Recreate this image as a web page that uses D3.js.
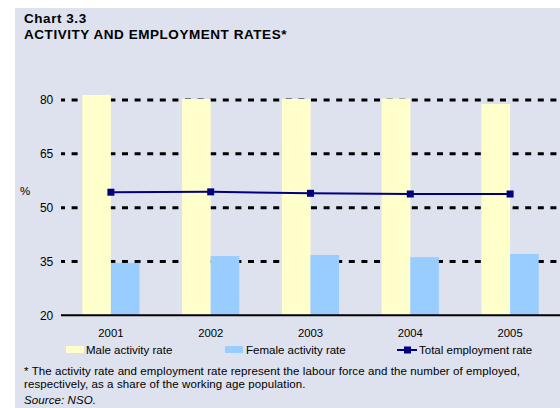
<!DOCTYPE html>
<html>
<head>
<meta charset="utf-8">
<script src="https://cdn.jsdelivr.net/npm/d3@7"></script>
<style>
  html, body { margin: 0; padding: 0; background: #ffffff; }
  svg { display: block; font-family: "Liberation Sans", Arial, sans-serif; }
</style>
</head>
<body>
<svg id="chart" width="560" height="408"></svg>
<script>
// Labour market indicators, % of working age population
const years = ["2001", "2002", "2003", "2004", "2005"];
const maleActivity = [81.4, 80.3, 80.3, 80.4, 78.9];
const femaleActivity = [34.6, 36.5, 36.8, 36.2, 37.1];
const totalEmployment = [54.3, 54.4, 54.0, 53.8, 53.8];
const yTicks = [20, 35, 50, 65, 80];
const seriesNames = ["Male activity rate", "Female activity rate", "Total employment rate"];

const colors = { male: "#ffffcc", female: "#99ccff", line: "#000080", bg: "#dde2ee" };

const svg = d3.select("#chart");

// panel background
svg.append("rect").attr("x", 15).attr("y", 8).attr("width", 545).attr("height", 400)
  .attr("fill", colors.bg);

// titles
svg.append("text").attr("x", 24).attr("y", 23).attr("font-size", 13.5).attr("font-weight", "bold")
  .attr("letter-spacing", 0.55).attr("fill", "#000").text("Chart 3.3");
svg.append("text").attr("x", 24).attr("y", 38.5).attr("font-size", 13.5).attr("font-weight", "bold")
  .attr("letter-spacing", 0.55).attr("fill", "#000").text("ACTIVITY AND EMPLOYMENT RATES*");

const plotLeft = 61, plotRight = 560;
const y = d3.scaleLinear().domain([20, 80]).range([315.3, 100]);
const x = d3.scaleBand().domain(years).range([plotLeft, plotRight]).paddingInner(0).paddingOuter(0);
const barW = 28.6;
const cx = d => x(d) + x.bandwidth() / 2;

// dotted gridlines
const grid = svg.append("g");
grid.selectAll("line").data(yTicks.filter(t => t > 20)).join("line")
  .attr("x1", plotLeft).attr("x2", plotRight)
  .attr("y1", d => y(d)).attr("y2", d => y(d))
  .attr("stroke", "#000").attr("stroke-width", 3)
  .attr("stroke-dasharray", "6 6.6").attr("stroke-dashoffset", 2);

// bars
svg.append("g").selectAll("rect").data(years).join("rect")
  .attr("x", d => cx(d) - barW).attr("width", barW)
  .attr("y", (d, i) => y(maleActivity[i])).attr("height", (d, i) => y(20) - y(maleActivity[i]))
  .attr("fill", colors.male);
svg.append("g").selectAll("rect").data(years).join("rect")
  .attr("x", d => cx(d)).attr("width", barW)
  .attr("y", (d, i) => y(femaleActivity[i])).attr("height", (d, i) => y(20) - y(femaleActivity[i]))
  .attr("fill", colors.female);

// baseline axis
svg.append("line").attr("x1", plotLeft).attr("x2", plotRight)
  .attr("y1", y(20)).attr("y2", y(20)).attr("stroke", "#000").attr("stroke-width", 2);

// y axis labels
const yAxis = d3.axisLeft(y).tickValues(yTicks).tickSize(0).tickPadding(0).tickFormat(d3.format("d"));
const yg = svg.append("g").attr("transform", "translate(53.3,0)").call(yAxis);
yg.select(".domain").remove();
yg.selectAll("text").attr("font-size", 12).attr("fill", "#000")
  .attr("font-family", "Liberation Sans, Arial, sans-serif");

svg.append("text").attr("x", 20).attr("y", 195).attr("font-size", 11.5).attr("fill", "#000").text("%");

// x axis labels
const xAxis = d3.axisBottom(x).tickSize(0).tickPadding(0);
const xg = svg.append("g").attr("transform", "translate(0,328.7)").call(xAxis);
xg.select(".domain").remove();
xg.selectAll("text").attr("font-size", 11.3).attr("fill", "#000")
  .attr("font-family", "Liberation Sans, Arial, sans-serif");

// employment line
const line = d3.line().x((d, i) => cx(years[i])).y(d => y(d));
svg.append("path").datum(totalEmployment).attr("d", line)
  .attr("fill", "none").attr("stroke", colors.line).attr("stroke-width", 2);
svg.append("g").selectAll("rect").data(totalEmployment).join("rect")
  .attr("x", (d, i) => cx(years[i]) - 3.5).attr("y", d => y(d) - 3.5)
  .attr("width", 7).attr("height", 7).attr("fill", colors.line);

// legend
const leg = svg.append("g").attr("font-size", 11.5).attr("fill", "#000");
leg.append("rect").attr("x", 66).attr("y", 346).attr("width", 18).attr("height", 7).attr("fill", colors.male);
leg.append("text").attr("x", 86).attr("y", 353.5).text(seriesNames[0]);
leg.append("rect").attr("x", 225).attr("y", 346).attr("width", 18).attr("height", 7).attr("fill", colors.female);
leg.append("text").attr("x", 246).attr("y", 353.5).text(seriesNames[1]);
leg.append("line").attr("x1", 397).attr("x2", 417).attr("y1", 350).attr("y2", 350)
  .attr("stroke", colors.line).attr("stroke-width", 2);
leg.append("rect").attr("x", 404).attr("y", 346.5).attr("width", 7).attr("height", 7).attr("fill", colors.line);
leg.append("text").attr("x", 419).attr("y", 353.5).text(seriesNames[2]);

// footnote
const foot = svg.append("g").attr("font-size", 11.5).attr("letter-spacing", 0.09).attr("fill", "#000");
foot.append("text").attr("x", 24).attr("y", 374.5)
  .text("* The activity rate and employment rate represent the labour force and the number of employed,");
foot.append("text").attr("x", 24).attr("y", 388)
  .text("respectively, as a share of the working age population.");
foot.append("text").attr("x", 24).attr("y", 404).attr("font-style", "italic").text("Source: NSO.");
</script>
</body>
</html>
